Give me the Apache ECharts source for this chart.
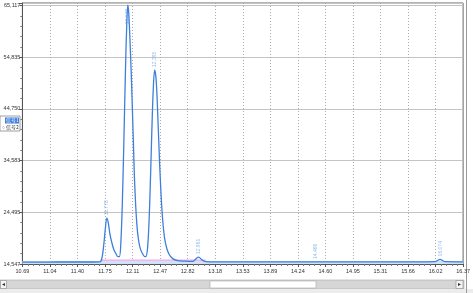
<!DOCTYPE html>
<html><head><meta charset="utf-8">
<script src="https://cdn.jsdelivr.net/npm/echarts@6/dist/echarts.min.js"></script>
<style>html,body{margin:0;padding:0;background:#fff}#c{width:473px;height:293px}</style>
</head><body><div id="c"></div>
<script>
const xTickLabels = ["10.69","11.04","11.40","11.75","12.11","12.47","12.82","13.18","13.53","13.89","14.24","14.60","14.95","15.31","15.66","16.02","16.37"];
const yTickLabels = ["14,547","24,495","34,583","44,750","54,835","65,117"];
const xFirst = 10.69, xLast = 16.37;
const yFirst = 14.547, yLast = 65.117;

// retention time (min) and signal
const times = [10.69,11.00,11.30,11.60,11.688,11.714,11.740,11.759,11.778,11.797,11.817,11.843,11.868,11.894,11.920,11.940,11.958,11.977,11.997,12.016,12.035,12.048,12.061,12.080,12.099,12.119,12.138,12.164,12.189,12.215,12.241,12.266,12.279,12.305,12.331,12.356,12.376,12.395,12.414,12.434,12.459,12.485,12.511,12.536,12.575,12.627,12.691,12.781,12.884,12.923,12.961,13.000,13.039,13.103,13.50,14.00,14.50,15.00,15.50,15.90,16.009,16.042,16.074,16.106,16.138,16.37];
const signal = [14.93,14.93,14.94,14.94,14.95,15.6,18.5,21.5,23.5,22.6,20.5,18.7,17.4,16.6,16.0,16.0,18.5,26.0,38.0,51.0,61.5,65.2,63.5,57.0,49.0,39.0,30.0,22.5,19.0,17.3,16.5,16.0,16.0,18.0,26.5,39.5,48.5,52.5,50.5,44.0,34.0,26.0,21.0,18.5,16.6,15.6,15.2,15.1,15.05,15.5,15.9,15.4,15.05,14.97,14.95,14.95,14.96,14.95,14.96,14.97,15.0,15.25,15.45,15.2,15.0,14.97];
const peakTimes = [11.778,12.048,12.395,12.961,14.466,16.074];
const peakHeights = [23.5,65.2,52.5,15.9,14.95,15.45];
const peakLabels = ["11.778","12.048","12.395","12.961","14.466","16.074"];
const pinkTimes = [11.69,13.05];
const pinkLevel = [15.3,15.3];
const baseTimes = [10.69,16.37];
const baseLevel = [14.85,14.85];

const nx = xTickLabels.length-1, ny = yTickLabels.length-1;
const tx = t => (t-xFirst)/(xLast-xFirst)*nx;
const ty = v => (v-yFirst)/(yLast-yFirst)*ny;
const pts = (ts, vs) => ts.map((t,i)=>[tx(t),ty(vs[i])]);

const chart = echarts.init(document.getElementById('c'), null, {renderer:'canvas'});
const font = 'Liberation Sans, Arial, sans-serif';
chart.setOption({
  animation:false,
  backgroundColor:'#fff',
  grid:{left:22.4,right:9,top:3,bottom:29,show:true,borderColor:'#666',borderWidth:1},
  xAxis:{type:'value',min:0,max:nx,interval:1,
    axisLine:{show:true,lineStyle:{color:'#555'}},
    axisTick:{show:true,length:3,lineStyle:{color:'#555'}},
    minorTick:{show:true,splitNumber:5,length:2,lineStyle:{color:'#777'}},
    axisLabel:{fontSize:5.5,color:'#333',fontFamily:font,margin:4,
      formatter:v=>Number.isInteger(v)?xTickLabels[v]:''},
    splitLine:{show:true,lineStyle:{color:'#aaa',type:[1,2],width:1}}},
  yAxis:{type:'value',min:0,max:ny+0.048,interval:1,
    axisLine:{show:true,lineStyle:{color:'#555'}},
    axisTick:{show:true,length:3,lineStyle:{color:'#555'}},
    minorTick:{show:true,splitNumber:5,length:2,lineStyle:{color:'#777'}},
    axisLabel:{fontSize:5.5,color:'#333',fontFamily:font,margin:2,
      formatter:v=>Number.isInteger(v)?yTickLabels[v]:''},
    splitLine:{show:true,lineStyle:{color:'#c4c4c4',width:1}}},
  series:[
    {type:'line',data:pts(baseTimes,baseLevel),symbol:'none',silent:true,
      lineStyle:{color:'#cfe2f6',width:3}},
    {type:'line',data:pts(pinkTimes,pinkLevel),symbol:'none',silent:true,
      lineStyle:{color:'#f08ce0',width:1}},
    {type:'line',data:pts(times,signal),symbol:'none',smooth:0.35,
      lineStyle:{color:'#3d7fdc',width:1.3}},
    {type:'scatter',symbolSize:0,
      data:peakTimes.map((t,i)=>{
        const d={value:[tx(t),ty(peakHeights[i])],name:peakLabels[i]};
        if(peakHeights[i]>60) d.label={position:'bottom',distance:4,align:'right'};
        return d;}),
      label:{show:true,position:'top',distance:3,rotate:90,align:'left',verticalAlign:'middle',
        formatter:p=>p.name,fontSize:5,color:'#79aee8',fontFamily:font}}
  ],
  graphic:[
    {type:'rect',shape:{x:0,y:116,width:20,height:15},style:{fill:'#fff',stroke:'#888',lineWidth:0.8}},
    {type:'rect',shape:{x:5,y:117.5,width:14,height:6},style:{fill:'#3d7fdc'}},
    {type:'text',x:1,y:118,style:{text:'▪信号1',fontSize:5,fill:'#fff',fontFamily:'Noto Sans CJK SC'}},
    {type:'text',x:1,y:125,style:{text:'▫信号2',fontSize:5,fill:'#333',fontFamily:'Noto Sans CJK SC'}},
    {type:'rect',shape:{x:0,y:280,width:464,height:9},style:{fill:'#d6d6d6',stroke:'#aaa',lineWidth:0.6}},
    {type:'rect',shape:{x:0.5,y:280.5,width:6,height:8},style:{fill:'#f4f4f4',stroke:'#888',lineWidth:0.6}},
    {type:'text',x:2,y:281.5,style:{text:'◂',fontSize:6,fill:'#333'}},
    {type:'rect',shape:{x:210,y:281,width:106,height:7},style:{fill:'#fff',stroke:'#aaa',lineWidth:0.6}},
    {type:'rect',shape:{x:456,y:280.5,width:7,height:8},style:{fill:'#f4f4f4',stroke:'#888',lineWidth:0.6}},
    {type:'text',x:458,y:281.5,style:{text:'▸',fontSize:6,fill:'#333'}},
    {type:'rect',shape:{x:0,y:289,width:473,height:4},style:{fill:'#ececec'}},
    {type:'line',shape:{x1:466.5,y1:0,x2:466.5,y2:293},style:{stroke:'#999',lineWidth:1}}
  ]
});
</script></body></html>
